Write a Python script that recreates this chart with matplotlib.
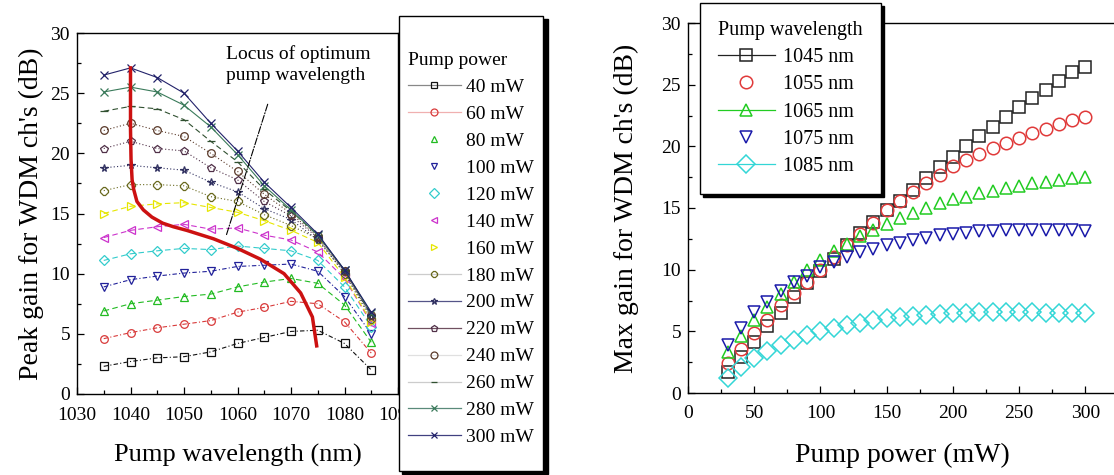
import matplotlib
matplotlib.use("Agg")
import matplotlib.pyplot as plt
from matplotlib.lines import Line2D
from matplotlib.patches import Rectangle
from matplotlib.ticker import MultipleLocator

plt.rcParams["font.family"] = ["Liberation Serif", "DejaVu Serif"]

# ---------------- left panel: peak gain vs pump wavelength ----------------
wavelengths = [1035, 1040, 1045, 1050, 1055, 1060, 1065, 1070, 1075, 1080, 1085]
power_labels = ["40 mW", "60 mW", "80 mW", "100 mW", "120 mW", "140 mW", "160 mW",
                "180 mW", "200 mW", "220 mW", "240 mW", "260 mW", "280 mW", "300 mW"]

gain_40 = [2.3, 2.7, 3.0, 3.1, 3.5, 4.2, 4.7, 5.2, 5.3, 4.2, 2.0]
gain_60 = [4.6, 5.1, 5.5, 5.8, 6.1, 6.8, 7.2, 7.7, 7.5, 6.0, 3.4]
gain_80 = [6.9, 7.5, 7.8, 8.1, 8.3, 8.9, 9.3, 9.6, 9.2, 7.4, 4.3]
gain_100 = [8.9, 9.5, 9.8, 10.05, 10.2, 10.6, 10.7, 10.8, 10.2, 8.1, 5.0]
gain_120 = [11.1, 11.65, 11.9, 12.1, 12.0, 12.3, 12.1, 11.9, 11.1, 8.9, 5.6]
gain_140 = [13.0, 13.6, 13.9, 14.1, 13.7, 13.8, 13.2, 12.8, 11.8, 9.6, 5.9]
gain_160 = [15.0, 15.6, 15.8, 15.9, 15.5, 15.1, 14.4, 13.6, 12.6, 9.7, 6.0]
gain_180 = [16.9, 17.4, 17.4, 17.3, 16.4, 16.0, 14.9, 14.0, 12.9, 10.0, 6.2]
gain_200 = [18.8, 19.0, 18.8, 18.6, 17.6, 16.8, 15.4, 14.5, 12.8, 10.1, 6.4]
gain_220 = [20.4, 21.0, 20.4, 20.2, 18.8, 17.8, 16.0, 14.8, 13.0, 10.2, 6.5]
gain_240 = [21.9, 22.5, 21.9, 21.4, 20.0, 18.5, 16.6, 15.0, 13.1, 10.2, 6.6]
gain_260 = [23.5, 23.9, 23.7, 22.8, 21.0, 19.3, 17.0, 15.2, 13.2, 10.3, 6.6]
gain_280 = [25.1, 25.5, 25.1, 24.0, 22.2, 19.9, 17.3, 15.3, 13.2, 10.3, 6.7]
gain_300 = [26.5, 27.1, 26.3, 25.0, 22.5, 20.2, 17.6, 15.5, 13.3, 10.3, 6.8]

# locus of optimum pump wavelength (red curve)
locus_wl = [1040.0, 1040.0, 1040.1, 1040.3, 1040.6, 1041.2, 1042.4, 1044.0, 1046.0,
            1048.0, 1050.5, 1055.5, 1060.0, 1064.3, 1068.7, 1071.8, 1074.0, 1074.8]
locus_gain = [27.1, 22.0, 19.5, 17.8, 17.0, 16.0, 15.3, 14.7, 14.2,
              13.9, 13.6, 12.9, 12.1, 11.2, 10.0, 8.4, 6.4, 4.0]

# ---------------- right panel: max gain vs pump power ----------------
pump_power = [30, 40, 50, 60, 70, 80, 90, 100, 110, 120, 130, 140, 150, 160,
              170, 180, 190, 200, 210, 220, 230, 240, 250, 260, 270, 280, 290, 300]
wl_labels = ["1045 nm", "1055 nm", "1065 nm", "1075 nm", "1085 nm"]
max_1045 = [1.7, 2.9, 4.1, 5.4, 6.5, 7.8, 8.9, 9.9, 10.9, 12.0, 13.0, 13.9, 14.8, 15.6,
            16.5, 17.4, 18.3, 19.1, 20.0, 20.8, 21.6, 22.4, 23.2, 23.9, 24.6, 25.3, 26.0, 26.4]
max_1055 = [2.4, 3.6, 4.9, 5.9, 7.1, 8.1, 9.0, 10.0, 11.0, 12.0, 12.9, 13.8, 14.8, 15.6,
            16.3, 17.0, 17.7, 18.4, 18.9, 19.4, 19.9, 20.3, 20.7, 21.1, 21.4, 21.8, 22.1, 22.4]
max_1065 = [3.3, 4.6, 5.9, 7.0, 8.0, 9.0, 10.0, 10.8, 11.5, 12.1, 12.7, 13.2, 13.7, 14.2,
            14.6, 15.0, 15.4, 15.7, 15.9, 16.2, 16.4, 16.6, 16.8, 17.0, 17.1, 17.3, 17.4, 17.5]
max_1075 = [3.9, 5.3, 6.6, 7.4, 8.3, 9.0, 9.5, 10.2, 10.6, 11.0, 11.4, 11.7, 12.0, 12.2,
            12.4, 12.6, 12.8, 12.9, 13.0, 13.1, 13.15, 13.2, 13.2, 13.2, 13.2, 13.2, 13.2, 13.1]
max_1085 = [1.2, 2.1, 2.8, 3.4, 3.9, 4.3, 4.7, 5.0, 5.3, 5.5, 5.7, 5.9, 6.05, 6.15,
            6.25, 6.35, 6.4, 6.45, 6.5, 6.55, 6.55, 6.55, 6.55, 6.55, 6.5, 6.5, 6.5, 6.45]

left_series = [gain_40, gain_60, gain_80, gain_100, gain_120, gain_140, gain_160,
               gain_180, gain_200, gain_220, gain_240, gain_260, gain_280, gain_300]
right_series = [max_1045, max_1055, max_1065, max_1075, max_1085]

# styles (marker, colour, line style in plot, legend line colour or None)
left_styles = [
    ("s", "#111111", (0, (4, 2, 1, 2)), "#888888"),
    ("o", "#d83a3a", (0, (4, 2, 1, 2)), "#f0b0b0"),
    ("^", "#22bb22", (0, (5, 3)), None),
    ("v", "#22229a", (0, (4, 2, 1, 2)), None),
    ("D", "#33cccc", (0, (5, 3)), None),
    ("<", "#cc33cc", (0, (5, 3)), None),
    (">", "#e6e600", (0, (5, 3)), None),
    ("8", "#6a6a20", (0, (1, 2)), "#cccccc"),
    ("*", "#303060", (0, (1, 2)), "#555588"),
    ("p", "#503048", (0, (1, 2)), "#705060"),
    ("o", "#5a3a2a", (0, (1, 2)), "#e0e0e0"),
    ("_", "#305030", (0, (5, 3)), "#cccccc"),
    ("x", "#3a7a5a", "-", "#5a8a7a"),
    ("x", "#22226a", "-", "#404080"),
]
right_styles = [
    ("s", "#222222", True),
    ("o", "#e03a3a", False),
    ("^", "#22cc22", True),
    ("v", "#1a1aaa", False),
    ("D", "#33d6d6", True),
]

W, H = 1114, 475


def box(l, t, r, b):
    return [l / W, 1 - b / H, (r - l) / W, (b - t) / H]


fig = plt.figure(figsize=(W / 100, H / 100), dpi=100)
ax1 = fig.add_axes(box(77, 33, 398, 394))
ax2 = fig.add_axes(box(688, 23, 1125, 393))

for g, (m, c, ls, _) in zip(left_series, left_styles):
    ax1.plot(wavelengths, g, marker=m, color=c, ls=ls, lw=0.8, ms=5.5,
             mfc="none", mec=c, mew=0.9)
ax1.plot(locus_wl, locus_gain, color="#cc1111", lw=2.5, zorder=5)

ax1.annotate("", xy=(1057.7, 12.9), xytext=(1065.8, 24.3),
             arrowprops=dict(arrowstyle="-", ls="-.", lw=0.8, color="black"))
ax1.text(1057.9, 29.0, "Locus of optimum\npump wavelength", fontsize=14,
         ha="left", va="top", linespacing=1.35)

ax1.set_xlim(1030, 1090)
ax1.set_ylim(0, 30)
ax1.xaxis.set_major_locator(MultipleLocator(10))
ax1.xaxis.set_minor_locator(MultipleLocator(5))
ax1.yaxis.set_major_locator(MultipleLocator(5))
ax1.yaxis.set_minor_locator(MultipleLocator(2.5))
ax1.set_xlabel("Pump wavelength (nm)", fontsize=19)
ax1.set_ylabel("Peak gain for WDM ch's (dB)", fontsize=20)
ax1.xaxis.set_label_coords(0.5, -0.139)
ax1.yaxis.set_label_coords(-0.102, 0.5)

for g, (m, c, _) in zip(right_series, right_styles):
    ax2.plot(pump_power, g, marker=m, color=c, ls="none", ms=9,
             mfc="none", mec=c, mew=1.1)

ax2.set_xlim(0, 330)
ax2.set_ylim(0, 30)
ax2.xaxis.set_major_locator(MultipleLocator(50))
ax2.xaxis.set_minor_locator(MultipleLocator(25))
ax2.yaxis.set_major_locator(MultipleLocator(5))
ax2.yaxis.set_minor_locator(MultipleLocator(2.5))
ax2.set_xticks([0, 50, 100, 150, 200, 250, 300])
ax2.set_xlabel("Pump power (mW)", fontsize=20)
ax2.set_ylabel("Max gain for WDM ch's (dB)", fontsize=20)
ax2.xaxis.set_label_coords(0.49, -0.136)
ax2.yaxis.set_label_coords(-0.112, 0.5)
ax2.spines["right"].set_visible(False)

for ax in (ax1, ax2):
    ax.tick_params(which="both", direction="in", labelsize=14, width=0.9)
    ax.tick_params(axis="x", which="both", pad=9)
    ax.tick_params(axis="y", which="both", pad=5)
    ax.tick_params(which="major", length=5)
    ax.tick_params(which="minor", length=3)
    for s in ax.spines.values():
        s.set_linewidth(1.0)

# left legend: tall framed box with black shadow
fig.add_artist(Rectangle((402 / W, 1 - 474 / H), 146 / W, 455 / H,
                         transform=fig.transFigure, facecolor="black",
                         edgecolor="black", zorder=1))
fig.add_artist(Rectangle((399 / W, 1 - 471 / H), 144 / W, 455 / H,
                         transform=fig.transFigure, facecolor="white",
                         edgecolor="black", lw=1.0, zorder=1.1))
handles = []
for m, c, _, lc in left_styles:
    handles.append(Line2D([], [], marker=m, color=lc if lc else c,
                          ls="-" if lc else "none", lw=0.9, ms=5,
                          mfc="none", mec=c, mew=0.9))
fig.legend(handles, power_labels, loc="upper left",
           bbox_to_anchor=(408 / W, 1 - 52 / H), title="Pump power",
           alignment="left", frameon=False, fontsize=14, title_fontsize=14,
           labelspacing=0.48, handlelength=2.7, handletextpad=0.3,
           borderpad=0, borderaxespad=0)

# right legend
handles2 = []
for m, c, has_line in right_styles:
    handles2.append(Line2D([], [], marker=m, color=c, ls="-" if has_line else "none",
                           lw=0.9, ms=9, mfc="none", mec=c, mew=1.1))
leg2 = ax2.legend(handles2, wl_labels, loc="upper left",
                  bbox_to_anchor=(700 / W, 1 - 3 / H), bbox_transform=fig.transFigure,
                  title="Pump wavelength", alignment="left", fontsize=14.5,
                  title_fontsize=14.5, frameon=True, fancybox=False,
                  edgecolor="black", framealpha=1,
                  shadow={"color": "black", "alpha": 1},
                  labelspacing=0.4, handlelength=2.8, handletextpad=0.4,
                  borderpad=0.9, borderaxespad=0)
leg2.get_frame().set_linewidth(1.0)

fig.savefig("out.png", dpi=100)
